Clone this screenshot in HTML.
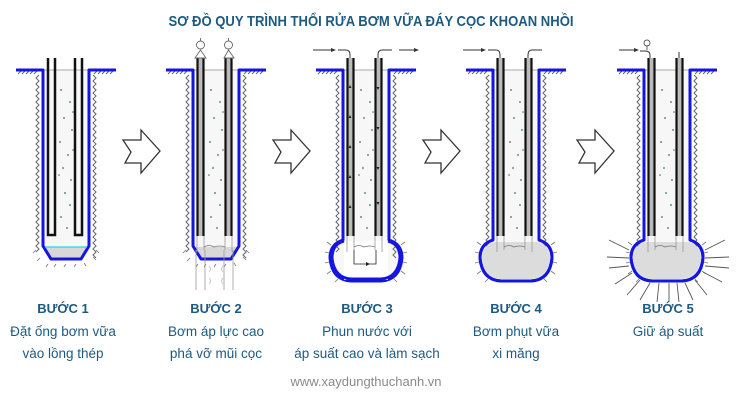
<!DOCTYPE html>
<html><head><meta charset="utf-8">
<style>
html,body{margin:0;padding:0;background:#fff;}
svg{display:block;}
text{font-family:"Liberation Sans",sans-serif;}
</style></head>
<body>
<svg width="742" height="400" viewBox="0 0 742 400" xmlns="http://www.w3.org/2000/svg">
<defs>
  <g id="soil">
    <path d="M-27 75 l-3 3 l3 3 l-3 3 l3 3 l-3 3 l3 3 l-3 3 l3 3 l-3 3 l3 3 l-3 3 l3 3 l-3 3 l3 3 l-3 3 l3 3 l-3 3 l3 3 l-3 3 l3 3 l-3 3 l3 3 l-3 3 l3 3 l-3 3 l3 3 l-3 3 l3 3 l-3 3 l3 3 l-3 3 l3 3 l-3 3 l3 3 l-3 3 l3 3 l-3 3 l3 3 l-3 3 l3 3 l-3 3 l3 3 l-3 3 l3 3 l-3 3 l3 3 l-3 3 l3 3 l-3 3 l3 3 l-3 3 l3 3 l-3 3 l3 3 l-3 3 l3 3 l-3 3 l3 3 l-3 3" fill="none" stroke="#666" stroke-width="1"/>
    <path d="M27 75 l3 3 l-3 3 l3 3 l-3 3 l3 3 l-3 3 l3 3 l-3 3 l3 3 l-3 3 l3 3 l-3 3 l3 3 l-3 3 l3 3 l-3 3 l3 3 l-3 3 l3 3 l-3 3 l3 3 l-3 3 l3 3 l-3 3 l3 3 l-3 3 l3 3 l-3 3 l3 3 l-3 3 l3 3 l-3 3 l3 3 l-3 3 l3 3 l-3 3 l3 3 l-3 3 l3 3 l-3 3 l3 3 l-3 3 l3 3 l-3 3 l3 3 l-3 3 l3 3 l-3 3 l3 3 l-3 3 l3 3 l-3 3 l3 3 l-3 3 l3 3 l-3 3 l3 3 l-3 3 l3 3 l-3 3 l3 3" fill="none" stroke="#666" stroke-width="1"/>
    <path d="M-48 74 l3 -3 M-44 74 l3 -3 M-40 74 l3 -3 M-36 74 l3 -3 M-32 74 l3 -3 M28 74 l3 -3 M32 74 l3 -3 M36 74 l3 -3 M40 74 l3 -3 M44 74 l3 -3" stroke="#666" stroke-width="1"/>
    <line x1="-22" y1="70" x2="22" y2="70" stroke="#aaa" stroke-width="1"/>
  </g>
  <g id="dots" fill="#3a7a4a">
    <circle cx="-5" cy="90" r="0.9"/><circle cx="4" cy="102" r="0.9"/><circle cx="-2" cy="118" r="0.9"/>
    <circle cx="6" cy="130" r="0.9"/><circle cx="-6" cy="142" r="0.9"/><circle cx="2" cy="155" r="0.9"/>
    <circle cx="-3" cy="168" r="0.9"/><circle cx="5" cy="180" r="0.9"/><circle cx="-1" cy="193" r="0.9"/>
    <circle cx="4" cy="205" r="0.9"/><circle cx="-5" cy="217" r="0.9"/><circle cx="1" cy="228" r="0.9"/>
    <circle cx="7" cy="112" r="0.8"/><circle cx="-7" cy="175" r="0.8"/><circle cx="7" cy="150" r="0.8"/>
  </g>
  <g id="pileA">
    <path d="M-23 70 V246 L-15 259 H15 L23 246 V70 Z" fill="#f7f7f7"/>
    <path d="M-22 247 H22 L15 258 H-15 Z" fill="#d8d8d8"/>
    <path d="M-30 250 l-3 3 M-26 258 l-3 3 M-18 264 l-2 3 M-10 264 l-2 3 M0 264 l-2 3 M10 264 l-2 3 M18 263 l2 3 M27 257 l3 3 M30 250 l3 3" stroke="#777" stroke-width="0.8"/>
    <use href="#soil"/>
    <use href="#dots"/>
    <path d="M-50 70 H-23 V246 L-15 259 H15 L23 246 V70 H50" fill="none" stroke="#1515e0" stroke-width="3" stroke-linejoin="round"/>
  </g>
  <g id="pileB">
    <path d="M-23 70 V240 Q-36 244 -36 258 Q-34 280 -15 281 H15 Q34 280 36 258 Q36 244 23 240 V70 Z" fill="#f7f7f7"/>
    <use href="#soil"/>
    <use href="#dots"/>
    <path d="M-35 245 l-4 -3 M-37 253 l-4 -1 M-37 262 l-4 1 M-35 271 l-4 3 M-28 279 l-3 3 M35 245 l4 -3 M37 253 l4 -1 M37 262 l4 1 M35 271 l4 3 M28 279 l3 3" stroke="#777" stroke-width="0.8"/>
    <path d="M-50 70 H-23 V240 Q-36 244 -36 258 Q-34 280 -15 281 H15 Q34 280 36 258 Q36 244 23 240 V70 H50" fill="none" stroke="#1515e0" stroke-width="3" stroke-linejoin="round"/>
  </g>
  <g id="tubes">
    <rect x="-19" y="58" width="7" height="178" fill="#bbb"/>
    <rect x="9" y="58" width="7" height="178" fill="#bbb"/>
    <path d="M-18.5 58 V236 M-12.5 58 V236 M9.5 58 V236 M15.5 58 V236" stroke="#111" stroke-width="2.2"/>
    <path d="M-19 236 V252 M-12 236 V250 M9 236 V250 M16 236 V252" stroke="#999" stroke-width="0.8"/>
    <path d="M-12 247 q5 -3 10 0 q6 -2 11 0" stroke="#777" stroke-width="0.8" fill="none"/>
  </g>
  <path id="barrow" d="M0 10 L18 10 L18 0 L37 21 L18 43 L18 33 L2 33 L8 22 Z" fill="#fff" stroke="#333" stroke-width="1.3" stroke-linejoin="miter"/>
</defs>

<text x="371" y="26" text-anchor="middle" font-size="15" font-weight="bold" fill="#1e5a80" style="font-family:'Liberation Sans Narrow','Liberation Sans',sans-serif" textLength="405" lengthAdjust="spacingAndGlyphs">SƠ ĐỒ QUY TRÌNH THỔI RỬA BƠM VỮA ĐÁY CỌC KHOAN NHỒI</text>

<g transform="translate(66,0)">
  <use href="#pileA"/>
  <line x1="-21" y1="247" x2="21" y2="247" stroke="#2ad0e8" stroke-width="1.3"/>
  <path d="M-18 58 V235 H-11 V58 M9 58 V235 H16 V58" fill="none" stroke="#111" stroke-width="2.5"/>
</g>

<g transform="translate(216,0)">
  <use href="#pileA"/>
  <use href="#tubes"/>
  <path d="M-20 250 V290 M-11 250 V290 M8 250 V290 M17 250 V290" stroke="#999" stroke-width="0.8"/>
  <path d="M-7 272 q3 -3 0 -6 M7 272 q-3 -3 0 -6 M-7 284 q3 -3 0 -6 M7 284 q-3 -3 0 -6" stroke="#bbb" stroke-width="0.8" fill="none"/>
  <g fill="#fff" stroke="#666" stroke-width="0.9">
    <path d="M-21 58 L-15.5 50 L-10 58 Z"/><circle cx="-15.5" cy="45" r="4"/>
    <path d="M8 58 L12.5 50 L18 58 Z"/><circle cx="12.5" cy="45" r="4"/>
  </g>
  <path d="M-15.5 41 V38 M12.5 41 V38" stroke="#666" stroke-width="0.9"/>
</g>

<g transform="translate(366,0)">
  <use href="#pileB"/>
  <rect x="-22" y="241" width="44" height="39" fill="#fff"/>
  <path d="M-22 241 Q-34 244 -34 258 Q-32 278 -15 279 H15 Q32 278 34 258 Q34 244 22 241" fill="none" stroke="#1515e0" stroke-width="3"/>
  <use href="#tubes"/>
  <path d="M-12 250 V264 H10 V250" fill="none" stroke="#222" stroke-width="0.8"/>
  <path d="M0 262 l4 2 l-4 2 Z" fill="#222"/>
  <g fill="#222"><path d="M-16 85 l-1.5 3 h3 Z M-16 115 l-1.5 3 h3 Z M-16 145 l-1.5 3 h3 Z M-16 175 l-1.5 3 h3 Z M-16 205 l-1.5 3 h3 Z M12 90 l-1.5 -3 h3 Z M12 130 l-1.5 -3 h3 Z M12 170 l-1.5 -3 h3 Z M12 205 l-1.5 -3 h3 Z"/></g>
  <path d="M-53 50 H-35 M-28 50 H-20 q4 0 4 5 V58 M12 58 V55 q0 -5 4 -5 H26 M33 50 H48" fill="none" stroke="#333" stroke-width="1"/>
  <path d="M-35 48 l5 2 l-5 2 Z M48 48 l5 2 l-5 2 Z" fill="#333"/>
</g>

<g transform="translate(516,0)">
  <use href="#pileB"/>
  <path d="M-22 242 Q-34 246 -34 258 Q-32 278 -15 279 H15 Q32 278 34 258 Q34 246 22 242 Z" fill="#dcdcdc"/>
  <path d="M-23 240 Q-36 244 -36 258 Q-34 280 -15 281 H15 Q34 280 36 258 Q36 244 23 240" fill="none" stroke="#1515e0" stroke-width="3"/>
  <use href="#tubes"/>
  <path d="M-53 50 H-35 M-28 50 H-20 q4 0 4 5 V58 M12 58 V55 q0 -5 4 -5 H26" fill="none" stroke="#333" stroke-width="1"/>
  <path d="M-35 48 l5 2 l-5 2 Z" fill="#333"/>
</g>

<g transform="translate(667,0)">
  <use href="#pileB"/>
  <path d="M-22 242 Q-34 246 -34 258 Q-32 278 -15 279 H15 Q32 278 34 258 Q34 246 22 242 Z" fill="#dcdcdc"/>
  <path d="M-23 240 Q-36 244 -36 258 Q-34 280 -15 281 H15 Q34 280 36 258 Q36 244 23 240" fill="none" stroke="#1515e0" stroke-width="3"/>
  <use href="#tubes"/>
  <path d="M-48 50 H-33 M-27 51 H-22 q5 0 5 4 V58 M12 58 V52" fill="none" stroke="#333" stroke-width="1"/>
  <path d="M-33 48 l5 2 l-5 2 Z" fill="#333"/>
  <circle cx="-20" cy="43" r="3" fill="#fff" stroke="#555" stroke-width="0.9"/>
  <path d="M-20 46 V50" stroke="#555" stroke-width="0.9"/>
  <g stroke="#555" stroke-width="0.9">
    <path d="M-58 240 L-38 250 M-60 257 L-38 258 M-58 268 L-38 266 M-52 284 L-35 273 M-40 295 L-27 280 M-27 300 L-17 283 M-10 302 L-8 283 M2 302 L2 283 M12 302 L10 283 M26 300 L18 283 M40 295 L28 280 M55 282 L36 272 M62 268 L38 266 M62 257 L38 258 M58 240 L38 250"/>
  </g>
</g>

<use href="#barrow" x="123" y="130"/>
<use href="#barrow" x="273" y="130"/>
<use href="#barrow" x="423" y="130"/>
<use href="#barrow" x="577" y="130"/>

<g fill="#1e5a80" font-size="13.5" text-anchor="middle">
  <text x="63" y="313" font-weight="bold" font-size="13">BƯỚC 1</text>
  <text x="63" y="336">Đặt ống bơm vữa</text>
  <text x="63" y="358">vào lồng thép</text>
  <text x="216" y="313" font-weight="bold" font-size="13">BƯỚC 2</text>
  <text x="216" y="336">Bơm áp lực cao</text>
  <text x="216" y="358">phá vỡ mũi cọc</text>
  <text x="367" y="313" font-weight="bold" font-size="13">BƯỚC 3</text>
  <text x="367" y="336">Phun nước với</text>
  <text x="367" y="358">áp suất cao và làm sạch</text>
  <text x="516" y="313" font-weight="bold" font-size="13">BƯỚC 4</text>
  <text x="516" y="336">Bơm phụt vữa</text>
  <text x="516" y="358">xi măng</text>
  <text x="668" y="313" font-weight="bold" font-size="13">BƯỚC 5</text>
  <text x="668" y="336">Giữ áp suất</text>
</g>
<text x="366" y="386" text-anchor="middle" font-size="13" fill="#8a8a8a">www.xaydungthuchanh.vn</text>
</svg>
</body></html>
